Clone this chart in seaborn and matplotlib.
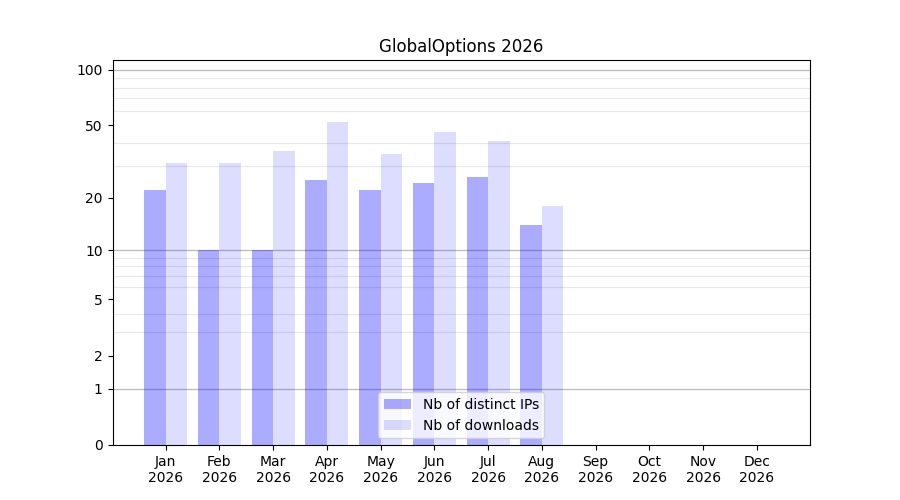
import numpy as np
import pandas as pd
import matplotlib
matplotlib.use('Agg')
import matplotlib.pyplot as plt
import seaborn as sns
from matplotlib.ticker import FixedLocator, FixedFormatter

months = ["Jan", "Feb", "Mar", "Apr", "May", "Jun",
          "Jul", "Aug", "Sep", "Oct", "Nov", "Dec"]
year = "2026"
distinct_ips = [22, 10, 10, 25, 22, 24, 26, 14, 0, 0, 0, 0]
downloads = [31, 31, 36, 52, 35, 46, 41, 18, 0, 0, 0, 0]
series_names = ["Nb of distinct IPs", "Nb of downloads"]
y_ticks = [0, 1, 2, 5, 10, 20, 50, 100]
y_minor = [1, 2, 3, 4, 5, 6, 7, 8, 9, 20, 30, 40, 50, 60, 70, 80, 90]
y_major_lines = [1, 10, 100]

labels = [f"{m}\n{year}" for m in months]
df = pd.DataFrame({
    "month": labels * 2,
    "value": distinct_ips + downloads,
    "series": [series_names[0]] * 12 + [series_names[1]] * 12,
})


def fwd(y):
    y = np.asarray(y, dtype=float)
    return np.log10(1 + np.clip(y, -0.999, None))


def inv(y):
    return 10 ** np.asarray(y, dtype=float) - 1


fig, ax = plt.subplots(figsize=(9, 5), dpi=100)

sns.barplot(data=df, x="month", y="value", hue="series",
            palette=["#0000ff", "#0000ff"], width=0.8, ax=ax,
            saturation=1, linewidth=0)

# per-series transparency
for bars, a in zip(ax.containers, [0.33, 0.135]):
    for p in bars:
        p.set_alpha(a)

ax.set_yscale('function', functions=(fwd, inv))
ax.set_ylim(0, 113)
ax.set_xlim(-0.99, 11.99)
ax.yaxis.set_major_locator(FixedLocator(y_ticks))
ax.yaxis.set_major_formatter(FixedFormatter([str(t) for t in y_ticks]))
ax.yaxis.set_minor_locator(FixedLocator(y_minor))
ax.tick_params(axis='y', which='minor', length=0)

ax.grid(axis='y', which='minor', color='#e8e8e8', linewidth=0.8)
ax.set_axisbelow(True)
for v in y_major_lines:
    ax.axhline(v, color='#bbbbbb', linewidth=0.9, zorder=0.5)

ax.set_xlabel("")
ax.set_ylabel("")
ax.set_title("GlobalOptions 2026")

handles, _ = ax.get_legend_handles_labels()
for h, a in zip(handles, [0.33, 0.135]):
    h.set_alpha(a)
ax.legend(handles, series_names, loc='lower center')

plt.savefig("out.png", dpi=100)
